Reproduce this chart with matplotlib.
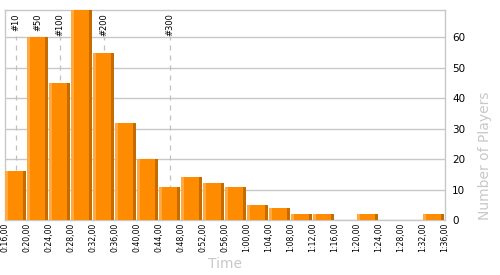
import numpy as np
import matplotlib.pyplot as plt

# bins: start second of each 4s interval (0:16 .. 1:32)
bin_start = list(range(16, 96, 4))
players = [16, 60, 45, 69, 55, 32, 20, 11, 14, 12, 11, 5, 4, 2, 2, 0, 2, 0, 0, 2]

# rank markers (seconds)
marker_names = ["#10", "#50", "#100", "#200", "#300"]
marker_times = [18, 22, 26, 34, 46]

tick_secs = list(range(16, 97, 4))
tick_labels = [f"{s // 60}:{s % 60:02d},00" for s in tick_secs]

fig = plt.figure(figsize=(5, 2.75), dpi=100)
ax = fig.add_axes([0.01, 0.2, 0.88, 0.7636])

grid_col = "#c8c8c8"
w = 4 * 21 / 22
edge = 0.55
bs = np.array(bin_start, dtype=float)
h = np.array(players, dtype=float)
ax.bar(bs, h, width=w, align="edge", color="#ff8c00", zorder=3)
ax.bar(bs, h, width=edge, align="edge", color="#ffa940", zorder=4)
ax.bar(bs + w - edge, h, width=edge, align="edge", color="#c46c00", zorder=4)

for name, t in zip(marker_names, marker_times):
    ax.plot([t, t], [0, 60.5], ls=(0, (4, 4)), color="#c0c0c0", lw=0.9, zorder=2)
    ax.text(t, 68, name, rotation=90, ha="center", va="top", fontsize=6,
            color="black", zorder=5)

ax.set_xlim(16, 96)
ax.set_ylim(0, 69)
ax.yaxis.tick_right()
ax.set_yticks(range(0, 61, 10))
ax.set_xticks(tick_secs)
ax.set_xticklabels(tick_labels, rotation=90, fontsize=5.6)
ax.tick_params(axis="y", labelsize=7.5, length=0, pad=5)
ax.tick_params(axis="x", length=0, pad=2)
ax.grid(axis="y", color=grid_col, lw=1, zorder=1)
for s in ax.spines.values():
    s.set_color(grid_col)
    s.set_linewidth(1)

fig.text(0.97, 0.2, "Number of Players", rotation=90, ha="center", va="bottom",
         fontsize=10, color="#c8c8c8")
fig.text(0.45, 0.04, "Time", ha="center", va="center", fontsize=10, color="#c8c8c8")

fig.savefig("out.png", dpi=100)
